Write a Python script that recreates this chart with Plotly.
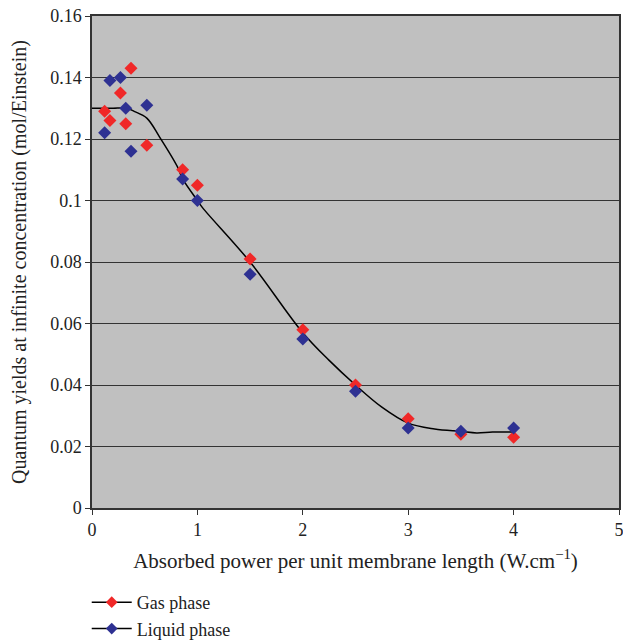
import plotly.graph_objects as go

# Gas phase data
gas_x = [0.12, 0.17, 0.27, 0.32, 0.37, 0.52, 0.86, 1.0, 1.5, 2.0, 2.5, 3.0, 3.5, 4.0]
gas_y = [0.129, 0.126, 0.135, 0.125, 0.143, 0.118, 0.110, 0.105, 0.081, 0.058, 0.040, 0.029, 0.024, 0.023]

# Liquid phase data
liq_x = [0.12, 0.17, 0.27, 0.32, 0.37, 0.52, 0.86, 1.0, 1.5, 2.0, 2.5, 3.0, 3.5, 4.0]
liq_y = [0.122, 0.139, 0.140, 0.130, 0.116, 0.131, 0.107, 0.100, 0.076, 0.055, 0.038, 0.026, 0.025, 0.026]

# Fitted curve
fit_x = [0, 0.1, 0.2, 0.33, 0.4, 0.52, 0.64, 0.81, 0.86, 1.0, 1.05, 1.5, 2.0, 2.25, 2.5, 2.75, 3.0, 3.25, 3.5, 3.65, 3.8, 4.0]
fit_y = [0.130, 0.130, 0.130, 0.130, 0.129, 0.1268, 0.1207, 0.111, 0.107, 0.100, 0.0976, 0.080, 0.057, 0.048, 0.040, 0.0328, 0.0276, 0.0257, 0.0249, 0.0244, 0.0247, 0.0247]

x_ticks = [0, 1, 2, 3, 4, 5]
y_ticks = [0, 0.02, 0.04, 0.06, 0.08, 0.1, 0.12, 0.14, 0.16]
y_ticklabels = ["0", "0.02", "0.04", "0.06", "0.08", "0.1", "0.12", "0.14", "0.16"]

RED = "#f02828"
BLUE = "#2e3192"
FONT = "Liberation Serif"

fig = go.Figure()
fig.add_trace(go.Scatter(x=fit_x, y=fit_y, mode="lines", line=dict(color="black", width=1.5, shape="spline"),
                         showlegend=False, hoverinfo="skip"))
fig.add_trace(go.Scatter(x=gas_x, y=gas_y, mode="markers",
                         marker=dict(symbol="diamond", size=10, color=RED), showlegend=False))
fig.add_trace(go.Scatter(x=liq_x, y=liq_y, mode="markers",
                         marker=dict(symbol="diamond", size=10, color=BLUE), showlegend=False))
# legend entries
fig.add_trace(go.Scatter(x=[None], y=[None], mode="lines+markers", name="Gas phase",
                         line=dict(color="black", width=1.5),
                         marker=dict(symbol="diamond", size=9, color=RED)))
fig.add_trace(go.Scatter(x=[None], y=[None], mode="lines+markers", name="Liquid phase",
                         line=dict(color="black", width=1.5),
                         marker=dict(symbol="diamond", size=9, color=BLUE)))

fig.update_layout(
    width=623, height=640,
    margin=dict(l=92, r=4, t=16, b=132, autoexpand=False),
    paper_bgcolor="white",
    plot_bgcolor="#c0c0c0",
    font=dict(family=FONT, size=18, color="#222222"),
    showlegend=True,
    legend=dict(x=-0.01, y=1 - 584 / 640, xref="paper", yref="container",
                xanchor="left", yanchor="top",
                bgcolor="rgba(0,0,0,0)", font=dict(family=FONT, size=18),
                tracegroupgap=0, itemwidth=40),
)
fig.update_xaxes(
    range=[0, 5], tickvals=x_ticks, ticktext=[str(t) for t in x_ticks],
    showgrid=False, zeroline=False, automargin=False,
    showline=True, linecolor="#333333", linewidth=1.5, mirror=True,
    ticks="outside", ticklen=5, tickcolor="#333333", ticklabeloverflow="allow",
    title=dict(text="Absorbed power per unit membrane length (W.cm<sup>−1</sup>)",
               font=dict(family=FONT, size=21), standoff=14),
    tickfont=dict(family=FONT, size=18),
)
fig.update_yaxes(
    range=[0, 0.16], tickvals=y_ticks, ticktext=y_ticklabels,
    showgrid=True, gridcolor="#333333", gridwidth=1.2, zeroline=False, automargin=False,
    showline=True, linecolor="#333333", linewidth=1.5, mirror=True,
    ticks="outside", ticklen=5, tickcolor="#333333",
    title=dict(text="Quantum yields at infinite concentration (mol/Einstein)",
               font=dict(family=FONT, size=20), standoff=18),
    tickfont=dict(family=FONT, size=18),
)

fig.write_html("out.html")
